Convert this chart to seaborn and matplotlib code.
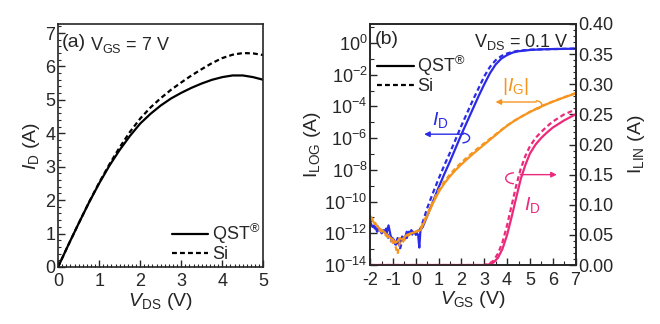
import numpy as np
import pandas as pd
import matplotlib
matplotlib.use("Agg")
import matplotlib.pyplot as plt
import seaborn as sns
from matplotlib.lines import Line2D
from matplotlib.patches import Arc
from matplotlib.ticker import MultipleLocator, FixedLocator, FixedFormatter, FormatStrFormatter

# ---------------- data (a) ----------------
vds = [0, 0.25, 0.5, 0.75, 1.0, 1.25, 1.5, 1.75, 2.0, 2.25, 2.5, 2.75, 3.0, 3.25, 3.5, 3.75,
       4.0, 4.25, 4.5, 4.75, 5.0]
id_qst = [0, 0.66, 1.30, 1.92, 2.50, 3.03, 3.50, 3.92, 4.29, 4.58, 4.83, 5.04, 5.21, 5.36, 5.49,
          5.60, 5.68, 5.73, 5.73, 5.68, 5.60]
id_si = [0, 0.66, 1.30, 1.93, 2.52, 3.07, 3.58, 4.04, 4.44, 4.77, 5.05, 5.30, 5.52, 5.73, 5.92,
         6.10, 6.25, 6.35, 6.40, 6.39, 6.34]

# ---------------- data (b) ----------------
# log10 of |I| (A)
vgs_id_qst = [-2.0, -1.9, -1.8, -1.7, -1.6, -1.5, -1.4, -1.3, -1.2, -1.1, -1.0, -0.9, -0.8, -0.7, -0.6,
              -0.5, -0.4, -0.3, -0.2, -0.1, 0.0, 0.1, 0.15, 0.2, 0.3, 0.5, 0.75, 1.0, 1.25, 1.5, 1.75,
              2.0, 2.25, 2.5, 2.75, 3.0, 3.25, 3.5, 3.75, 4.0, 4.25, 4.5, 5.0, 5.5, 6.0, 7.0]
logid_qst = [-11.3, -11.6, -11.5, -11.9, -11.7, -12.0, -11.8, -12.1, -11.5, -12.2, -12.4, -12.7, -12.3,
             -12.6, -12.2, -12.4, -11.9, -12.1, -11.8, -12.0, -11.9, -12.1, -12.9, -11.8, -11.6,
             -10.9, -10.0, -9.1, -8.25, -7.45, -6.6, -5.75, -4.95, -4.15, -3.35, -2.6, -1.9, -1.35,
             -0.98, -0.76, -0.6, -0.52, -0.44, -0.4, -0.38, -0.36]
vgs_id_si = [-2.0, -1.9, -1.8, -1.7, -1.6, -1.5, -1.4, -1.3, -1.2, -1.1, -1.0, -0.9, -0.8, -0.7, -0.6,
             -0.5, -0.4, -0.3, -0.2, -0.1, 0.0, 0.1, 0.2, 0.3, 0.5, 0.75, 1.0, 1.25, 1.5, 1.75, 2.0,
             2.25, 2.5, 2.75, 3.0, 3.25, 3.5, 3.75, 4.0, 4.25, 4.5, 5.0, 7.0]
logid_si = [-11.0, -11.4, -11.7, -11.5, -11.9, -11.8, -12.0, -11.7, -12.3, -12.5, -12.2, -12.8, -12.4,
            -13.0, -12.5, -12.1, -12.3, -11.9, -12.2, -11.8, -12.1, -11.9, -11.7, -11.3, -10.4,
            -9.45, -8.55, -7.7, -6.9, -6.05, -5.2, -4.4, -3.6, -2.85, -2.1, -1.5, -1.08, -0.82,
            -0.66, -0.55, -0.49, -0.42, -0.35]

vgs_ig = [-2.0, -1.8, -1.6, -1.4, -1.2, -1.0, -0.9, -0.8, -0.7, -0.6, -0.4, -0.2, 0.0, 0.2, 0.3, 0.5,
          0.75, 1.0, 1.25, 1.5, 1.75, 2.0, 2.25, 2.5, 2.75, 3.0, 3.25, 3.5, 3.75, 4.0, 4.25, 4.5,
          4.75, 5.0, 5.5, 6.0, 6.5, 7.0]
logig_qst = [-11.0, -11.4, -11.7, -11.9, -12.2, -12.4, -12.6, -12.5, -12.3, -12.4, -12.1, -12.0, -11.9,
             -11.8, -11.5, -10.9, -10.1, -9.4, -8.85, -8.4, -8.0, -7.65, -7.32, -7.0, -6.7, -6.4,
             -6.1, -5.8, -5.5, -5.22, -4.97, -4.75, -4.55, -4.35, -4.0, -3.7, -3.43, -3.18]
logig_si = [-10.9, -11.3, -11.8, -12.0, -12.3, -12.6, -12.8, -13.3, -12.5, -12.6, -12.2, -12.0, -11.9,
            -11.7, -11.4, -10.8, -9.98, -9.28, -8.73, -8.28, -7.88, -7.53, -7.2, -6.9, -6.6, -6.32,
            -6.04, -5.76, -5.48, -5.2, -4.96, -4.74, -4.54, -4.34, -3.99, -3.69, -3.42, -3.16]

vgs_lin = [-2.0, 3.0, 3.2, 3.4, 3.6, 3.8, 4.0, 4.2, 4.4, 4.6, 4.8, 5.0, 5.25, 5.5, 5.75, 6.0, 6.5, 7.0]
idlin_qst = [0.0, 0.0, 0.001, 0.004, 0.012, 0.027, 0.050, 0.080, 0.112, 0.143, 0.166, 0.185, 0.200,
             0.211, 0.220, 0.228, 0.240, 0.250]
idlin_si = [0.0, 0.0, 0.002, 0.007, 0.019, 0.038, 0.066, 0.099, 0.132, 0.160, 0.181, 0.197, 0.211,
            0.221, 0.230, 0.238, 0.250, 0.258]

logticks = [0, -2, -4, -6, -8, -10, -12, -14]

# ---------------- style ----------------
sns.set_style("ticks")
plt.rcParams["font.family"] = ["Liberation Sans", "DejaVu Sans"]
plt.rcParams["mathtext.fontset"] = "custom"
plt.rcParams["mathtext.rm"] = "Liberation Sans"
plt.rcParams["mathtext.it"] = "Liberation Sans:italic"
plt.rcParams["mathtext.bf"] = "Liberation Sans:bold"
plt.rcParams["axes.linewidth"] = 1.2
plt.rcParams["axes.unicode_minus"] = False

BLUE = "#2B2BE6"
ORANGE = "#F5951F"
PINK = "#EC2A7C"
DASH = (0, (2.2, 1.4))
LW = 1.6
FS = 13
LFS = 14

fig = plt.figure(figsize=(6.6, 3.24), dpi=100)
axa = fig.add_axes([0.088, 0.176, 0.311, 0.750])
axb = fig.add_axes([0.561, 0.182, 0.311, 0.744])
ax2 = axb.twinx()

# ---------------- panel (a) ----------------
dfa = pd.DataFrame({"vds": vds, "qst": id_qst, "si": id_si})
sns.lineplot(data=dfa, x="vds", y="qst", ax=axa, color="black", lw=LW)
sns.lineplot(data=dfa, x="vds", y="si", ax=axa, color="black", lw=LW, linestyle=DASH)
axa.set_xlim(0, 5)
axa.set_ylim(0, 7.27)
axa.xaxis.set_major_locator(MultipleLocator(1))
axa.xaxis.set_minor_locator(MultipleLocator(0.1))
axa.yaxis.set_major_locator(MultipleLocator(1))
axa.yaxis.set_minor_locator(MultipleLocator(0.2))
axa.tick_params(which="both", direction="in", labelsize=FS, top=False, right=False)
axa.tick_params(axis="x", pad=4)
axa.tick_params(axis="y", pad=2)
axa.tick_params(which="major", length=5, width=1.0)
axa.tick_params(which="minor", length=2.5, width=0.8)
axa.set_xlabel("$V$$_{\\mathrm{DS}}$ (V)", fontsize=LFS, labelpad=1)
axa.set_ylabel("$I$$_{\\mathrm{D}}$ (A)", fontsize=LFS, labelpad=2)
axa.text(0.02, 0.96, "(a)", transform=axa.transAxes, fontsize=14, va="top", ha="left")
axa.text(0.155, 0.955, "V$_{\\mathrm{GS}}$ = 7 V", transform=axa.transAxes, fontsize=13, va="top", ha="left")
ha = [Line2D([], [], color="black", lw=LW), Line2D([], [], color="black", lw=LW, linestyle=DASH)]
axa.legend(ha, ["QST$^{\u00ae}$", "Si"], loc="lower right", frameon=False, fontsize=FS,
           handlelength=2.0, handletextpad=0.2, labelspacing=0.0, borderaxespad=0.0,
           bbox_to_anchor=(1.02, -0.015))

# ---------------- panel (b) ----------------
def lin(vals):
    return [10.0 ** v for v in vals]

sns.lineplot(x=vgs_id_si, y=lin(logid_si), ax=axb, color=BLUE, lw=LW, linestyle=DASH)
sns.lineplot(x=vgs_id_qst, y=lin(logid_qst), ax=axb, color=BLUE, lw=LW)
sns.lineplot(x=vgs_ig, y=lin(logig_si), ax=axb, color=ORANGE, lw=LW, linestyle=DASH)
sns.lineplot(x=vgs_ig, y=lin(logig_qst), ax=axb, color=ORANGE, lw=LW)
axb.set_yscale("log")
axb.set_xlim(-2, 7)
axb.set_ylim(1e-14, 10 ** 1.2)
axb.xaxis.set_major_locator(MultipleLocator(1))
axb.xaxis.set_minor_locator(MultipleLocator(0.5))
axb.yaxis.set_major_locator(FixedLocator([10.0 ** t for t in logticks]))
axb.yaxis.set_major_formatter(FixedFormatter(["$10^{%d}$" % t for t in logticks]))
axb.yaxis.set_minor_locator(FixedLocator([10.0 ** t for t in range(-13, 2, 2)]))
axb.yaxis.set_minor_formatter(FixedFormatter([""] * 8))
axb.tick_params(which="both", direction="in", labelsize=FS, top=False, right=False)
axb.tick_params(axis="x", pad=5)
axb.tick_params(axis="y", pad=2)
axb.tick_params(which="major", length=5, width=1.0)
axb.tick_params(which="minor", length=3, width=0.8)
axb.set_xlabel("$V$$_{\\mathrm{GS}}$ (V)", fontsize=LFS, labelpad=0)
axb.set_ylabel("I$_{\\mathrm{LOG}}$ (A)", fontsize=LFS, labelpad=1)

sns.lineplot(x=vgs_lin, y=idlin_si, ax=ax2, color=PINK, lw=LW, linestyle=DASH)
sns.lineplot(x=vgs_lin, y=idlin_qst, ax=ax2, color=PINK, lw=LW)
ax2.set_ylim(0, 0.40)
ax2.yaxis.set_major_locator(MultipleLocator(0.05))
ax2.yaxis.set_minor_locator(MultipleLocator(0.01))
ax2.yaxis.set_major_formatter(FormatStrFormatter("%.2f"))
ax2.tick_params(which="both", direction="in", labelsize=FS, pad=2)
ax2.tick_params(which="major", length=5, width=1.0)
ax2.tick_params(which="minor", length=2.5, width=0.8)
ax2.set_ylabel("I$_{\\mathrm{LIN}}$ (A)", fontsize=LFS, labelpad=9)
ax2.set_xlim(-2, 7)

axb.text(0.02, 0.97, "(b)", transform=axb.transAxes, fontsize=14, va="top", ha="left")
axb.text(0.965, 0.965, "V$_{\\mathrm{DS}}$ = 0.1 V", transform=axb.transAxes, fontsize=13,
         va="top", ha="right")
hb = [Line2D([], [], color="black", lw=LW), Line2D([], [], color="black", lw=LW, linestyle=DASH)]
axb.legend(hb, ["QST$^{\u00ae}$", "Si"], loc="upper left", frameon=False, fontsize=FS,
           handlelength=2.0, handletextpad=0.2, labelspacing=0.0, borderaxespad=0.0,
           bbox_to_anchor=(0.0, 0.905))

# annotations
axb.text(1.08, 10 ** -4.87, "$I$$_{\\mathrm{D}}$", color=BLUE, fontsize=14, ha="center", va="center")
axb.annotate("", xy=(0.24, 10 ** -5.75), xytext=(2.2, 10 ** -5.75),
             arrowprops=dict(arrowstyle="-|>", color=BLUE, lw=1.0, mutation_scale=8))
axb.add_patch(Arc((0.449, 0.527), 0.07, 0.04, theta1=-90, theta2=90, color=BLUE, lw=1.0,
                  transform=axb.transAxes))

axb.text(4.35, 10 ** -2.77, "|$I$$_{\\mathrm{G}}$|", color=ORANGE, fontsize=14, ha="center", va="center")
axb.annotate("", xy=(3.37, 10 ** -3.72), xytext=(5.4, 10 ** -3.72),
             arrowprops=dict(arrowstyle="-|>", color=ORANGE, lw=1.0, mutation_scale=8))
axb.add_patch(Arc((0.806, 0.664), 0.06, 0.035, theta1=-90, theta2=90, color=ORANGE, lw=1.0,
                  transform=axb.transAxes))

ax2.text(5.09, 0.099, "$I$$_{\\mathrm{D}}$", color=PINK, fontsize=14, ha="center", va="center")
ax2.annotate("", xy=(6.3, 0.150), xytext=(4.45, 0.150),
             arrowprops=dict(arrowstyle="-|>", color=PINK, lw=1.0, mutation_scale=8))
ax2.add_patch(Arc((0.70, 0.36), 0.08, 0.045, theta1=90, theta2=270, color=PINK, lw=1.0,
                  transform=ax2.transAxes))

fig.savefig("out.png", dpi=100)
